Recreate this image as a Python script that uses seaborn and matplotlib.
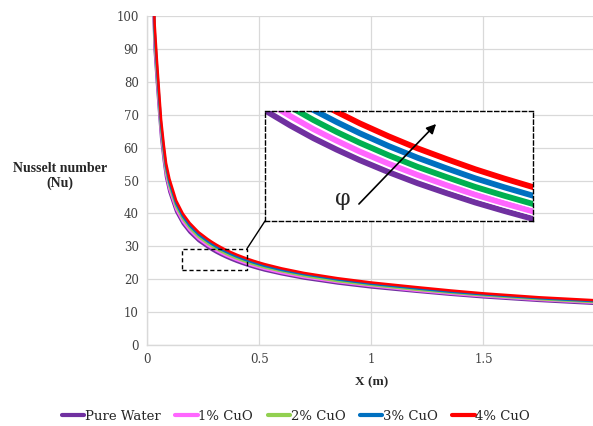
import matplotlib
matplotlib.use("Agg")
import matplotlib.pyplot as plt
import matplotlib.patheffects as pe
from matplotlib.patches import Rectangle, ConnectionPatch
from matplotlib.lines import Line2D
import seaborn as sns
import pandas as pd

# ---- data ----
x_m = [0.0295, 0.034, 0.044, 0.055, 0.063, 0.075, 0.085, 0.10, 0.13, 0.16, 0.19, 0.23, 0.25,
       0.27, 0.29, 0.31, 0.33, 0.35, 0.375, 0.40, 0.425, 0.45, 0.475, 0.50, 0.525,
       0.60, 0.70, 0.85, 1.00, 1.20, 1.35, 1.50, 1.75, 2.00]
nu_water = [100, 90, 80, 70, 63, 56, 51, 46.5, 40.5, 36.8, 34.2, 31.6, 30.65,
            29.7, 28.85, 28.07, 27.37, 26.72, 25.98, 25.30, 24.69, 24.11, 23.59, 23.10, 22.64,
            21.5, 20.2, 18.7, 17.5, 16.2, 15.3, 14.5, 13.4, 12.5]
nu_cuo1 = [102, 91.8, 81.6, 71.4, 64.3, 57.1, 52.0, 47.4, 41.3, 37.5, 34.9, 32.23, 31.26,
           30.29, 29.43, 28.63, 27.92, 27.25, 26.50, 25.81, 25.18, 24.59, 24.06, 23.56, 23.09,
           21.9, 20.6, 19.1, 17.9, 16.5, 15.6, 14.8, 13.7, 12.8]
nu_cuo2 = [104, 93.6, 83.2, 72.8, 65.5, 58.2, 53.0, 48.4, 42.1, 38.3, 35.6, 32.86, 31.88,
           30.89, 30.00, 29.19, 28.46, 27.79, 27.02, 26.31, 25.68, 25.07, 24.53, 24.02, 23.55,
           22.4, 21.0, 19.4, 18.2, 16.8, 15.9, 15.1, 13.9, 13.0]
nu_cuo3 = [106.2, 95.6, 85.0, 74.3, 66.9, 59.5, 54.2, 49.4, 43.0, 39.1, 36.3, 33.56, 32.55,
           31.54, 30.64, 29.81, 29.07, 28.38, 27.59, 26.87, 26.22, 25.60, 25.05, 24.53, 24.04,
           22.8, 21.5, 19.9, 18.6, 17.2, 16.2, 15.4, 14.2, 13.3]
nu_cuo4 = [108.5, 97.7, 86.8, 76.0, 68.4, 60.8, 55.3, 50.5, 43.9, 39.9, 37.1, 34.29, 33.26,
           32.22, 31.30, 30.46, 29.70, 28.99, 28.19, 27.45, 26.79, 26.16, 25.59, 25.06, 24.57,
           23.3, 21.9, 20.3, 19.0, 17.6, 16.6, 15.7, 14.5, 13.6]
series_names = ["Pure Water", "1% CuO", "2% CuO", "3% CuO", "4% CuO"]
x_ticks = [0, 0.5, 1, 1.5, 2]
x_tick_labels = ["0", "0.5", "1", "1.5", "2"]
y_ticks = list(range(0, 101, 10))

colors_main = ["#7030A0", "#FF66FF", "#92D050", "#0070C0", "#FF0000"]
colors_inset = ["#7030A0", "#FF66FF", "#00B050", "#0070C0", "#FF0000"]

frames = []
for name, vals in zip(series_names, [nu_water, nu_cuo1, nu_cuo2, nu_cuo3, nu_cuo4]):
    frames.append(pd.DataFrame({"X": x_m, "Nu": vals, "Fluid": name}))
df = pd.concat(frames, ignore_index=True)

sns.set_style("white")
plt.rcParams["font.family"] = ["DejaVu Serif"]

W, H = 593, 426
fig = plt.figure(figsize=(W / 100, H / 100), dpi=100)
ax = fig.add_axes([147 / W, (H - 345) / H, (595.6 - 147) / W, (345 - 16) / H])

sns.lineplot(data=df, x="X", y="Nu", hue="Fluid", hue_order=series_names,
             palette=colors_main, linewidth=1.8, estimator=None, sort=False,
             legend=False, ax=ax)

ax.set_xlim(0, 2)
ax.set_ylim(0, 100)
ax.set_xticks(x_ticks)
ax.set_xticklabels(x_tick_labels)
ax.set_yticks(y_ticks)
ax.tick_params(axis="both", length=0, labelsize=8.5, colors="#404040", pad=6)
ax.grid(True, color="#D9D9D9", linewidth=0.9)
ax.set_axisbelow(True)
for s in ["top", "right"]:
    ax.spines[s].set_visible(False)
for s in ["left", "bottom"]:
    ax.spines[s].set_color("#D9D9D9")
    ax.spines[s].set_linewidth(1.0)
ax.set_xlabel("")
ax.set_ylabel("")

fig.text(372 / W, 1 - 382 / H, "X (m)", ha="center", va="center",
         fontsize=9.5, fontweight="bold", family="Liberation Serif")
fig.text(60 / W, 1 - 176 / H, "Nusselt number\n(Nu)", ha="center", va="center",
         fontsize=10, fontweight="bold", family="Liberation Serif", linespacing=1.2)

# small dashed box on main axes
rect = Rectangle((0.156, 22.9), 0.446 - 0.156, 29.3 - 22.9, fill=False,
                 edgecolor="black", linestyle=(0, (3, 2)), linewidth=1.0, zorder=5)
ax.add_patch(rect)

# inset
iax = fig.add_axes([265 / W, (H - 221) / H, (533 - 265) / W, (221 - 111) / H])
iax.set_zorder(10)
for i, name in enumerate(series_names):
    sub = df[df["Fluid"] == name]
    sns.lineplot(data=sub, x="X", y="Nu", color=colors_inset[i], linewidth=4.2,
                 estimator=None, sort=False, legend=False, ax=iax,
                 path_effects=[pe.Stroke(linewidth=6.0, foreground="white"), pe.Normal()])
iax.set_xlim(0.268, 0.50)
iax.set_ylim(22.97, 29.75)
iax.set_xticks([])
iax.set_yticks([])
iax.set_xlabel("")
iax.set_ylabel("")
for s in iax.spines.values():
    s.set_visible(True)
    s.set_linestyle((0, (3, 2)))
    s.set_linewidth(1.0)
    s.set_color("black")
iax.set_facecolor("white")

iax.annotate("", xy=((438 - 265) / 268, (221 - 122) / 110),
             xytext=((357 - 265) / 268, (221 - 206) / 110),
             xycoords="axes fraction", textcoords="axes fraction",
             arrowprops=dict(arrowstyle="-|>", color="black", lw=1.2, mutation_scale=14))
iax.text((343 - 265) / 268, (221 - 199) / 110, "φ", ha="center", va="center",
         fontsize=16, family="DejaVu Serif", transform=iax.transAxes, zorder=20)

con = ConnectionPatch(xyA=(0.446, 29.3), coordsA=ax.transData,
                      xyB=(0, 0), coordsB=iax.transAxes,
                      color="black", linewidth=1.0)
fig.add_artist(con)

# legend
handles = [Line2D([0], [0], color=c, linewidth=3) for c in colors_main]
fig.legend(handles, series_names, loc="center", bbox_to_anchor=(296 / W, 1 - 416 / H),
           ncol=5, frameon=False, fontsize=9.5, handlelength=1.7, handletextpad=0.05,
           columnspacing=1.1)

fig.savefig("out.png", dpi=100)
